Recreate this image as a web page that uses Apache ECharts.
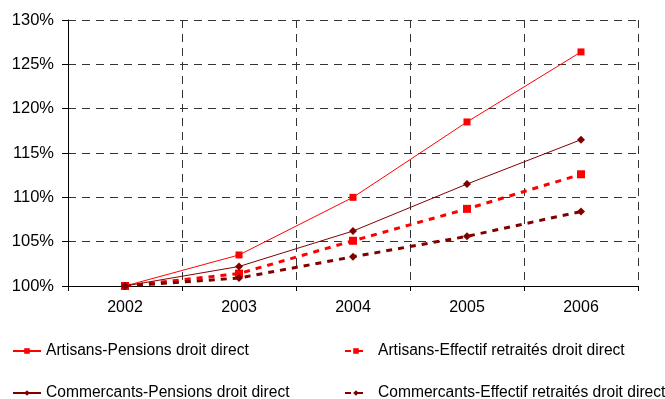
<!DOCTYPE html>
<html>
<head>
<meta charset="utf-8">
<script src="https://cdn.jsdelivr.net/npm/echarts@6/dist/echarts.min.js"></script>
<style>
  html, body { margin: 0; padding: 0; background: #fff; }
  #chart { width: 665px; height: 399px; }
</style>
</head>
<body>
<div id="chart"></div>
<script>
// Years on the horizontal axis
const years = ['2002', '2003', '2004', '2005', '2006'];

// Index values, 2002 = 100%
const artisansPensions = [100, 103.5, 110.0, 118.5, 126.4];
const artisansEffectif = [100, 101.4, 105.1, 108.7, 112.6];
const commercantsPensions = [100, 102.2, 106.2, 111.5, 116.5];
const commercantsEffectif = [100, 100.9, 103.3, 105.6, 108.4];

const seriesNames = [
  'Artisans-Pensions droit direct',
  'Artisans-Effectif retraités droit direct',
  'Commercants-Pensions droit direct',
  'Commercants-Effectif retraités droit direct'
];

const RED = '#ff0000';
const DARK = '#800000';
const FONT = 'Liberation Sans, Arial, sans-serif';

function legendAt(name, left, top, width, textPad) {
  return {
    data: [name],
    left: left,
    top: top,
    itemWidth: width,
    itemHeight: 7,
    itemGap: 0,
    padding: 0,
    selectedMode: false,
    textStyle: { fontFamily: FONT, fontSize: 15.6, color: '#000', padding: [0, 0, 0, textPad] }
  };
}

const chart = echarts.init(document.getElementById('chart'), null, { renderer: 'canvas' });
chart.setOption({
  animation: false,
  backgroundColor: '#fff',
  grid: { left: 68, right: 27, top: 20, bottom: 113 },
  legend: [
    legendAt(seriesNames[0], 12, 343, 28, 0),
    legendAt(seriesNames[1], 344, 343, 22, 6),
    legendAt(seriesNames[2], 12, 385, 28, 0),
    legendAt(seriesNames[3], 344, 385, 22, 6)
  ],
  xAxis: {
    type: 'category',
    data: years,
    boundaryGap: true,
    axisLine: { lineStyle: { color: '#000', width: 1 } },
    axisTick: { show: true, length: 5, lineStyle: { color: '#000' } },
    axisLabel: { fontFamily: FONT, fontSize: 16, color: '#000', margin: 14 },
    splitLine: { show: true, lineStyle: { color: '#333', type: [8, 6], width: 1 } }
  },
  yAxis: {
    type: 'value',
    min: 100,
    max: 130,
    interval: 5,
    axisLine: { show: true, lineStyle: { color: '#000', width: 1 } },
    axisTick: { show: true, length: 6, lineStyle: { color: '#000' } },
    axisLabel: { fontFamily: FONT, fontSize: 16.5, color: '#000', margin: 14, formatter: '{value}%' },
    splitLine: { show: true, lineStyle: { color: '#333', type: [8, 6], width: 1 } }
  },
  series: [
    {
      name: seriesNames[0], type: 'line', data: artisansPensions,
      symbol: 'rect', symbolSize: 7,
      lineStyle: { color: RED, width: 1 }, itemStyle: { color: RED }
    },
    {
      name: seriesNames[1], type: 'line', data: artisansEffectif,
      symbol: 'rect', symbolSize: 8,
      lineStyle: { color: RED, width: 3, type: [6, 6] }, itemStyle: { color: RED }
    },
    {
      name: seriesNames[2], type: 'line', data: commercantsPensions,
      symbol: 'diamond', symbolSize: 8,
      lineStyle: { color: DARK, width: 1 }, itemStyle: { color: DARK }
    },
    {
      name: seriesNames[3], type: 'line', data: commercantsEffectif,
      symbol: 'diamond', symbolSize: 8,
      lineStyle: { color: DARK, width: 3, type: [6, 6] }, itemStyle: { color: DARK }
    }
  ]
});
</script>
</body>
</html>
